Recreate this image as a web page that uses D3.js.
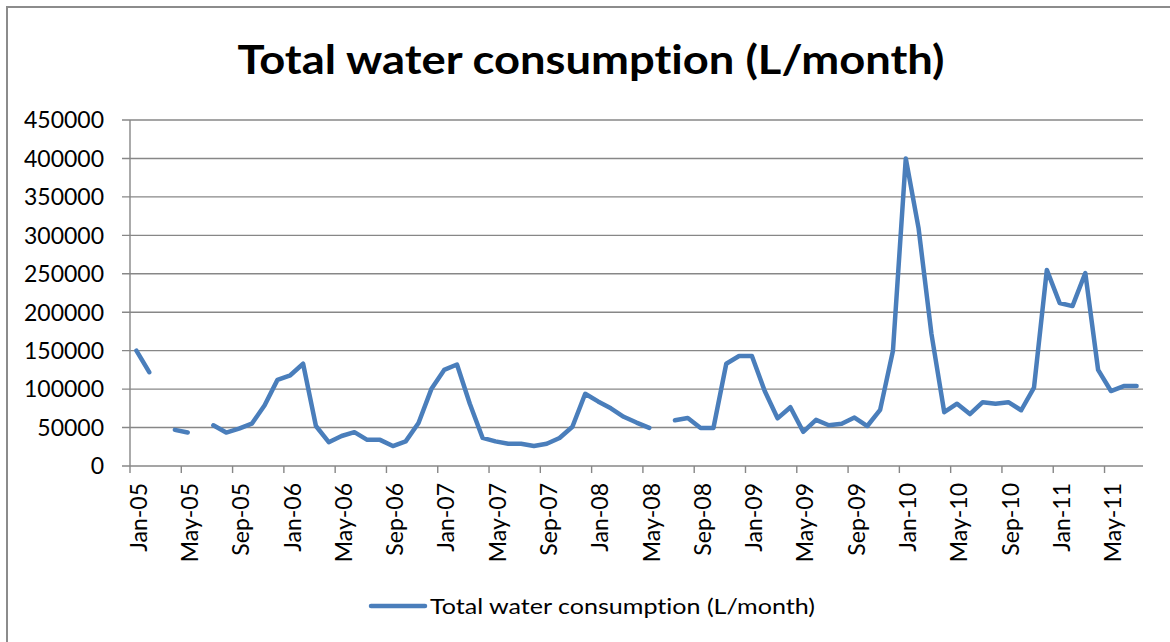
<!DOCTYPE html>
<html>
<head>
<meta charset="utf-8">
<script src="https://cdn.jsdelivr.net/npm/d3@7"></script>
<style>
  body { margin: 0; background: #fff; }
  svg text { font-family: Lato, "Open Sans", sans-serif; fill: #000; font-variant-ligatures: none; }
</style>
</head>
<body>
<div id="chart"></div>
<script>
'use strict';

var title = 'Total water consumption (L/month)';
var seriesName = 'Total water consumption (L/month)';

// one category per month, Jan-05 .. Jul-11
var months = [
    'Jan-05','Feb-05','Mar-05','Apr-05','May-05','Jun-05','Jul-05','Aug-05','Sep-05','Oct-05','Nov-05','Dec-05',
    'Jan-06','Feb-06','Mar-06','Apr-06','May-06','Jun-06','Jul-06','Aug-06','Sep-06','Oct-06','Nov-06','Dec-06',
    'Jan-07','Feb-07','Mar-07','Apr-07','May-07','Jun-07','Jul-07','Aug-07','Sep-07','Oct-07','Nov-07','Dec-07',
    'Jan-08','Feb-08','Mar-08','Apr-08','May-08','Jun-08','Jul-08','Aug-08','Sep-08','Oct-08','Nov-08','Dec-08',
    'Jan-09','Feb-09','Mar-09','Apr-09','May-09','Jun-09','Jul-09','Aug-09','Sep-09','Oct-09','Nov-09','Dec-09',
    'Jan-10','Feb-10','Mar-10','Apr-10','May-10','Jun-10','Jul-10','Aug-10','Sep-10','Oct-10','Nov-10','Dec-10',
    'Jan-11','Feb-11','Mar-11','Apr-11','May-11','Jun-11','Jul-11'
];

// litres per month, null where no reading
var consumption = [
    150000, 122000, null, 47000, 43500, null, 53000, 43500, 48500, 55000, 79000, 112000,
    118000, 133000, 52000, 31000, 39000, 44000, 34000, 34000, 26000, 32000, 56000, 100000,
    125000, 132000, 81000, 36500, 32000, 29000, 29000, 26000, 29000, 36500, 51000, 94000,
    84000, 75000, 64000, 56500, 49500, null, 59500, 62500, 49500, 49500, 133000, 143000,
    143000, 97500, 62000, 76500, 44500, 60000, 53000, 55000, 63000, 52000, 73000, 150000,
    400000, 309000, 172000, 70000, 81000, 67500, 83000, 81000, 83000, 72500, 102000, 255000,
    212000, 208000, 251000, 125000, 97500, 104000, 104000
];

var yTicks = [0, 50000, 100000, 150000, 200000, 250000, 300000, 350000, 400000, 450000];

var width = 1170, height = 642;
var plot = {left: 130, right: 1143, top: 120, bottom: 466};
var gridColor = '#878787';
var lineColor = '#4a7ebb';

var svg = d3.select('#chart')
    .append('svg')
    .attr('width', width)
    .attr('height', height);

// chart frame
svg.append('rect')
    .attr('x', 7).attr('y', 7)
    .attr('width', width + 10).attr('height', height + 10)
    .attr('fill', '#fff')
    .attr('stroke', '#8c8c8c')
    .attr('stroke-width', 2);

var x = d3.scaleBand()
    .domain(months)
    .range([plot.left, plot.right])
    .padding(0);

var y = d3.scaleLinear()
    .domain([0, 450000])
    .range([plot.bottom, plot.top]);

// horizontal gridlines + y labels
svg.selectAll('line.grid')
    .data(yTicks)
    .enter().append('line')
    .attr('class', 'grid')
    .attr('x1', plot.left - 8)
    .attr('x2', plot.right)
    .attr('y1', function (d) { return y(d); })
    .attr('y2', function (d) { return y(d); })
    .attr('stroke', gridColor)
    .attr('stroke-width', 1.4);

svg.selectAll('text.ylab')
    .data(yTicks)
    .enter().append('text')
    .attr('class', 'ylab')
    .attr('x', 104)
    .attr('y', function (d) { return y(d); })
    .attr('dy', '0.36em')
    .attr('text-anchor', 'end')
    .style('font-size', '23px')
    .text(function (d) { return d; });

// y axis line
svg.append('line')
    .attr('x1', plot.left).attr('x2', plot.left)
    .attr('y1', plot.top).attr('y2', plot.bottom)
    .attr('stroke', gridColor)
    .attr('stroke-width', 1.4);

// x axis: tick marks every 4 months at category boundaries
var labelled = months.filter(function (m, i) { return i % 4 === 0; });

svg.selectAll('line.xtick')
    .data(labelled)
    .enter().append('line')
    .attr('class', 'xtick')
    .attr('x1', function (d) { return x(d); })
    .attr('x2', function (d) { return x(d); })
    .attr('y1', plot.bottom)
    .attr('y2', plot.bottom + 7)
    .attr('stroke', gridColor)
    .attr('stroke-width', 1.4);

svg.selectAll('text.xlab')
    .data(labelled)
    .enter().append('text')
    .attr('class', 'xlab')
    .attr('transform', function (d) {
        return 'translate(' + (x(d) + x.bandwidth() / 2 + 2) + ',' + (plot.bottom + 17) + ') rotate(-90)';
    })
    .attr('dy', '0.36em')
    .attr('text-anchor', 'end')
    .style('font-size', '23px')
    .text(function (d) { return d; });

// the series
var points = months.map(function (m, i) { return {month: m, value: consumption[i]}; });

var line = d3.line()
    .defined(function (d) { return d.value !== null; })
    .x(function (d) { return x(d.month) + x.bandwidth() / 2; })
    .y(function (d) { return y(d.value); });

svg.append('path')
    .datum(points)
    .attr('d', line)
    .attr('fill', 'none')
    .attr('stroke', lineColor)
    .attr('stroke-width', 4.5)
    .attr('stroke-linecap', 'round')
    .attr('stroke-linejoin', 'round');

// title
svg.append('text')
    .attr('x', 591)
    .attr('y', 74)
    .attr('text-anchor', 'middle')
    .attr('textLength', 707)
    .attr('lengthAdjust', 'spacingAndGlyphs')
    .style('font-size', '41px')
    .style('font-weight', 'bold')
    .text(title);

// legend
svg.append('line')
    .attr('x1', 371).attr('x2', 425)
    .attr('y1', 606).attr('y2', 606)
    .attr('stroke', lineColor)
    .attr('stroke-width', 4.5)
    .attr('stroke-linecap', 'round');

svg.append('text')
    .attr('x', 430)
    .attr('y', 614)
    .attr('textLength', 385)
    .attr('lengthAdjust', 'spacingAndGlyphs')
    .style('font-size', '22px')
    .text(seriesName);
</script>
</body>
</html>
